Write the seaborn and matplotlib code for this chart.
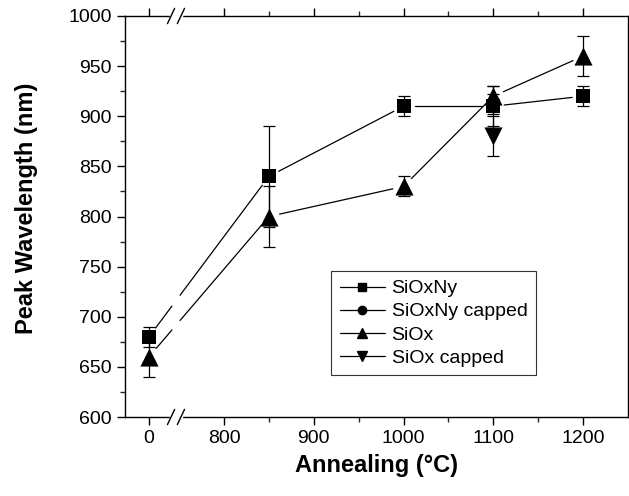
import numpy as np
import pandas as pd
import matplotlib
matplotlib.use("Agg")
import matplotlib.pyplot as plt
from matplotlib.lines import Line2D
import seaborn as sns

# annealing temperatures (0 = as deposited, drawn left of the axis break)
anneal = [0, 850, 1000, 1100, 1200]
sioxny = [680, 840, 910, 910, 920]
sioxny_err = [10, 50, 10, 20, 10]
siox = [660, 800, 830, 920, 960]
siox_err = [20, 30, 10, 10, 20]
sioxny_capped_x = [1100]
sioxny_capped = [912]
sioxny_capped_err = [10]
siox_capped_x = [1100]
siox_capped = [880]
siox_capped_err = [20]

x_ticks = [0, 800, 900, 1000, 1100, 1200]

ZERO_POS = 716.4          # where "0" sits on the continuous axis
BREAK_LO, BREAK_HI = 742, 751


def xpos(vals):
    return [ZERO_POS if v == 0 else v for v in vals]


def draw_segments(ax, xs, ys, gap_px=11):
    # Origin-style connecting lines: gaps around markers and at the axis break
    tr = ax.transData
    inv = tr.inverted()
    for i in range(len(xs) - 1):
        pieces = [((xs[i], ys[i]), (xs[i + 1], ys[i + 1]))]
        if xs[i] < BREAK_LO and xs[i + 1] > BREAK_HI:
            f = lambda x: ys[i] + (ys[i + 1] - ys[i]) * (x - xs[i]) / (xs[i + 1] - xs[i])
            pieces = [((xs[i], ys[i]), (BREAK_LO, f(BREAK_LO))),
                      ((BREAK_HI, f(BREAK_HI)), (xs[i + 1], ys[i + 1]))]
        for k, (a, b) in enumerate(pieces):
            pa, pb = tr.transform(a), tr.transform(b)
            d = (pb - pa) / np.hypot(*(pb - pa))
            if k == 0:
                pa = pa + d * gap_px
            if k == len(pieces) - 1:
                pb = pb - d * gap_px
            (x0, y0), (x1, y1) = inv.transform(pa), inv.transform(pb)
            ax.plot([x0, x1], [y0, y1], color="black", lw=0.9, zorder=2)


sns.set_theme(style="ticks")
plt.rcParams["font.family"] = ["Liberation Sans", "DejaVu Sans"]
plt.rcParams["text.color"] = "black"
plt.rcParams["axes.labelcolor"] = "black"

fig = plt.figure(figsize=(6.29, 4.96), dpi=100)
ax = fig.add_axes([125 / 629, 79 / 496, 503 / 629, 401 / 496])
ax.set_xlim(689.7, 1250)
ax.set_ylim(600, 1000)

series = [
    ("SiOxNy capped", sioxny_capped_x, sioxny_capped, sioxny_capped_err, "o", 90),
    ("SiOxNy", anneal, sioxny, sioxny_err, "s", 110),
    ("SiOx", anneal, siox, siox_err, "^", 170),
    ("SiOx capped", siox_capped_x, siox_capped, siox_capped_err, "v", 170),
]

for name, xs, ys, err, mk, size in series:
    px = xpos(xs)
    ax.errorbar(px, ys, yerr=err, fmt="none", ecolor="black", elinewidth=0.9,
                capsize=4, capthick=0.9, zorder=2)
    df = pd.DataFrame({"x": px, "y": ys})
    sns.scatterplot(data=df, x="x", y="y", marker=mk, s=size, color="black",
                    edgecolor="black", linewidth=0, ax=ax, zorder=3, legend=False)
    if len(px) > 1:
        draw_segments(ax, px, ys)

# axis ticks
ax.set_xticks(xpos(x_ticks))
ax.set_xticklabels([str(t) for t in x_ticks])
ax.set_xticks([850, 950, 1050, 1150], minor=True)
ax.set_yticks(np.arange(600, 1001, 50))
ax.set_yticks(np.arange(625, 1000, 50), minor=True)
ax.tick_params(axis="both", which="major", direction="out", length=6, width=1,
               labelsize=14, colors="black")
ax.tick_params(axis="both", which="minor", direction="out", length=3.5, width=1)
ax.tick_params(axis="x", which="both", top=True, bottom=True)
ax.tick_params(axis="y", which="both", left=True, right=False)
for s in ax.spines.values():
    s.set_color("black")
    s.set_linewidth(1)

ax.set_xlabel("Annealing (°C)", fontsize=17, fontweight="bold", labelpad=5)
ax.set_ylabel("Peak Wavelength (nm)", fontsize=17, fontweight="bold")
ax.yaxis.set_label_coords(-0.172, 0.52)

# axis break marks on top and bottom spines
for yb in (0, 1):
    ax.add_patch(plt.Rectangle((BREAK_LO - 2, yb - 0.012), BREAK_HI - BREAK_LO + 4, 0.024,
                               transform=ax.get_xaxis_transform(), color="white",
                               clip_on=False, zorder=5))
    for xb in (BREAK_LO - 1, BREAK_HI + 1):
        ax.plot([xb - 4, xb + 4], [yb - 0.019, yb + 0.019], color="black", lw=1,
                transform=ax.get_xaxis_transform(), clip_on=False, zorder=6)

handles = [
    Line2D([], [], color="black", lw=0.9, marker="s", markersize=6, label="SiOxNy"),
    Line2D([], [], color="black", lw=0.9, marker="o", markersize=6, label="SiOxNy capped"),
    Line2D([], [], color="black", lw=0.9, marker="^", markersize=7, label="SiOx"),
    Line2D([], [], color="black", lw=0.9, marker="v", markersize=7, label="SiOx capped"),
]
leg = ax.legend(handles=handles, loc="upper left", bbox_to_anchor=(0.41, 0.364),
                borderaxespad=0, fontsize=14, frameon=True, fancybox=False,
                handlelength=2.3, handletextpad=0.35, labelspacing=0.28,
                borderpad=0.45)
leg.get_frame().set_edgecolor("black")
leg.get_frame().set_linewidth(0.8)

fig.savefig("out.png", dpi=100)
